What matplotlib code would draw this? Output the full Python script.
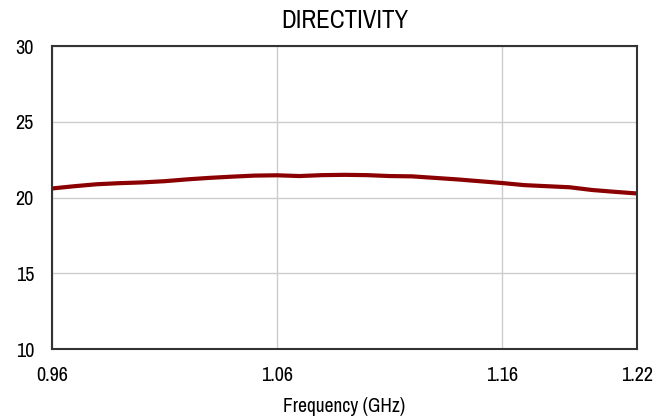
import matplotlib
matplotlib.use("Agg")
import matplotlib.pyplot as plt
from matplotlib import font_manager

# Directivity vs frequency
freq_ghz = [0.96, 0.97, 0.98, 0.99, 1.00, 1.01, 1.02, 1.03, 1.04, 1.05,
            1.06, 1.07, 1.08, 1.09, 1.10, 1.11, 1.12, 1.13, 1.14, 1.15,
            1.16, 1.17, 1.18, 1.19, 1.20, 1.21, 1.22]
directivity = [20.6, 20.75, 20.88, 20.95, 21.0, 21.08, 21.2, 21.3, 21.38, 21.45,
               21.47, 21.42, 21.48, 21.5, 21.48, 21.42, 21.4, 21.3, 21.2, 21.08,
               20.96, 20.82, 20.75, 20.68, 20.5, 20.38, 20.27]

x_ticks = [0.96, 1.06, 1.16, 1.22]
y_ticks = [10, 15, 20, 25, 30]

# the reference uses a narrow Arial-like face; take one if installed
names = sorted({f.name for f in font_manager.fontManager.ttflist})
narrow = [n for n in names if 'Narrow' in n or 'Condensed' in n]
plt.rcParams['font.family'] = narrow[:1] + ['Liberation Sans', 'DejaVu Sans']

fig = plt.figure(figsize=(6.63, 4.19), dpi=100)
ax = fig.add_axes([0.0784, 0.167, 0.8824, 0.723])

ax.plot(freq_ghz, directivity, color='#8b0000', lw=3, solid_capstyle='butt')

ax.set_xlim(0.96, 1.22)
ax.set_ylim(10, 30)
ax.set_xticks(x_ticks)
ax.set_xticklabels([f'{t:.2f}' for t in x_ticks])
ax.set_yticks(y_ticks)
ax.grid(True, color='#cccccc', lw=1)
ax.set_axisbelow(True)
ax.tick_params(length=0)
ax.tick_params(axis='x', labelsize=14.5, pad=12)
ax.tick_params(axis='y', labelsize=14.5, pad=13)
for s in ax.spines.values():
    s.set_color('#333333')
    s.set_linewidth(1.5)

ax.set_title('DIRECTIVITY', fontsize=18, pad=13)
ax.set_xlabel('Frequency (GHz)', fontsize=14, labelpad=9)

fig.savefig('out.png', dpi=100)
